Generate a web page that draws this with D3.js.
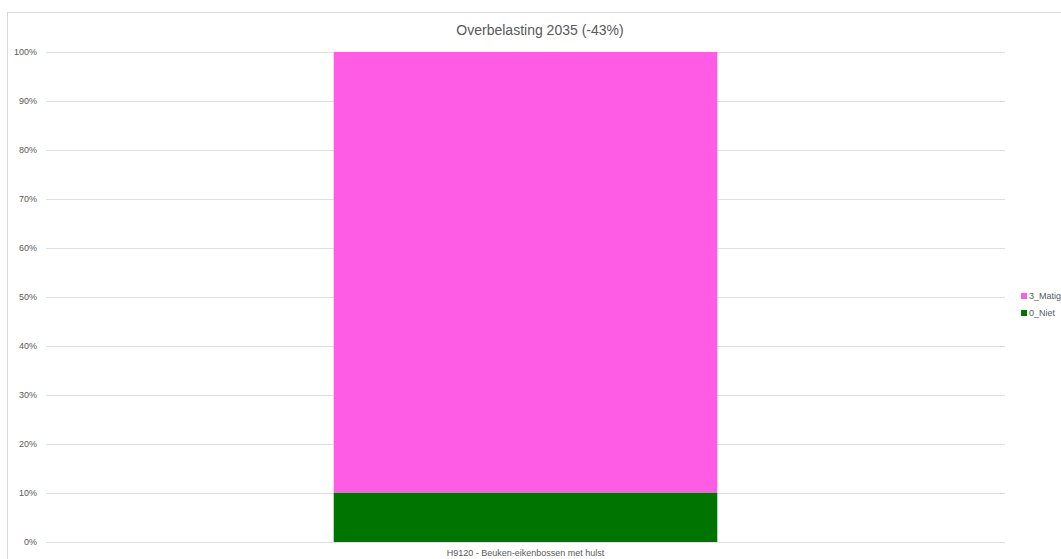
<!DOCTYPE html>
<html><head><meta charset="utf-8">
<script src="https://cdn.jsdelivr.net/npm/d3@7"></script>
<style>body{margin:0;background:#fff;}svg{display:block;font-family:"Liberation Sans",Arial,sans-serif;}</style>
</head><body><svg id="c" width="1061" height="559"></svg>
<script>
const categories = ["H9120 - Beuken-eikenbossen met hulst"];
const seriesNames = ["0_Niet", "3_Matig"];
const niet = [0.10];
const matig = [0.90];
const yTicks = [0,0.1,0.2,0.3,0.4,0.5,0.6,0.7,0.8,0.9,1.0];
const colors = {"0_Niet":"#007400","3_Matig":"#ff5ce6"};

const svg = d3.select("#c");
svg.append("rect").attr("x",7.5).attr("y",12.5).attr("width",1070).attr("height",560)
  .attr("fill","#fff").attr("stroke","#d9d9d9");

const x = d3.scaleBand().domain(categories).range([46,1005]).paddingInner(0.6).paddingOuter(0.3);
const y = d3.scaleLinear().domain([0,1]).range([542,52]);

svg.append("text").attr("x",540).attr("y",35).attr("text-anchor","middle")
  .attr("font-size",14).attr("fill","#595959").text("Overbelasting 2035 (-43%)");

const yAxis = d3.axisLeft(y).tickValues(yTicks).tickFormat(d3.format(".0%")).tickSize(-959).tickPadding(9);
const ga = svg.append("g").attr("transform","translate(46,0)").call(yAxis);
ga.select(".domain").remove();
ga.selectAll(".tick line").attr("stroke","#e0e0e0");
ga.selectAll(".tick text").attr("font-size",9).attr("fill","#595959");

const data = categories.map((c,i)=>({cat:c,"0_Niet":niet[i],"3_Matig":matig[i]}));
const stack = d3.stack().keys(seriesNames)(data);
svg.append("g").selectAll("g").data(stack).join("g").attr("fill",d=>colors[d.key])
  .selectAll("rect").data(d=>d).join("rect")
  .attr("x",d=>x(d.data.cat)).attr("width",x.bandwidth())
  .attr("y",d=>y(d[1])).attr("height",d=>y(d[0])-y(d[1]));

const xAxis = d3.axisBottom(x).tickSize(0).tickPadding(8);
const gx = svg.append("g").attr("transform","translate(0,542)").call(xAxis);
gx.select(".domain").remove();
gx.selectAll(".tick text").attr("font-size",9).attr("fill","#595959");

const legendItems = ["3_Matig","0_Niet"];
const lg = svg.append("g");
legendItems.forEach((k,i)=>{
  const yy = 296 + i*17;
  lg.append("rect").attr("x",1021).attr("y",yy-3).attr("width",6).attr("height",6).attr("fill",colors[k]);
  lg.append("text").attr("x",1029).attr("y",yy+3).attr("font-size",9).attr("fill","#595959").text(k);
});
</script></body></html>
